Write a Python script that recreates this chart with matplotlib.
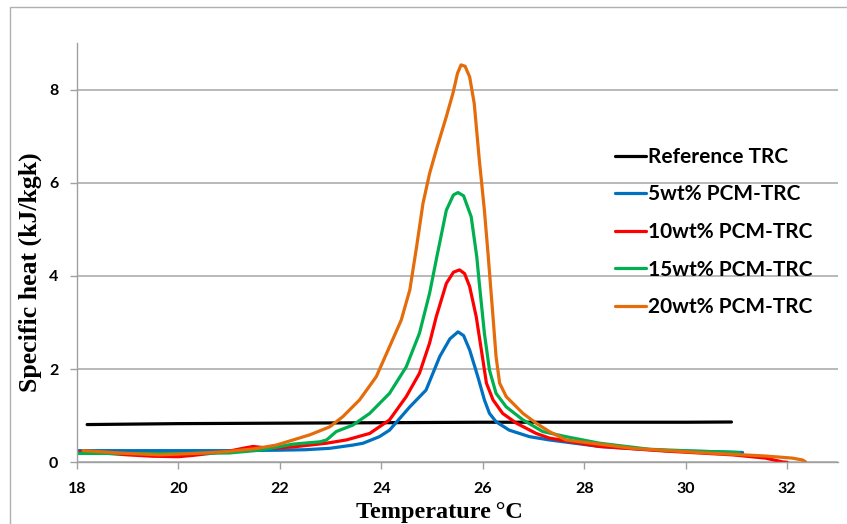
import matplotlib
matplotlib.use("Agg")
import matplotlib.pyplot as plt
from matplotlib.patches import Rectangle

plt.rcParams["font.family"] = ["Lato", "DejaVu Sans"]
plt.rcParams["font.weight"] = "bold"

# Specific heat curves
ref_x = [18.2, 20.0, 22.0, 24.0, 26.0, 28.0, 30.0, 30.9]
ref_y = [0.81, 0.83, 0.84, 0.85, 0.86, 0.86, 0.86, 0.865]

blue_x = [18.0, 19.0, 20.0, 21.0, 22.0, 22.5, 22.98, 23.44, 23.64, 23.96, 24.16,
          24.56, 24.88, 25.15, 25.35, 25.51, 25.62, 25.74, 25.90, 26.03, 26.13,
          26.26, 26.52, 26.92, 27.31, 28.3, 29.61, 30.5, 31.12]
blue_y = [0.25, 0.25, 0.25, 0.25, 0.26, 0.27, 0.30, 0.37, 0.41, 0.55, 0.69,
          1.19, 1.55, 2.27, 2.65, 2.80, 2.72, 2.41, 1.84, 1.34, 1.05,
          0.87, 0.69, 0.55, 0.48, 0.34, 0.25, 0.23, 0.21]

red_x = [18.0, 18.5, 19.0, 19.5, 20.0, 20.3, 20.62, 21.0, 21.27, 21.47, 21.8,
         22.26, 22.92, 23.31, 23.77, 24.16, 24.49, 24.75, 24.95, 25.08, 25.28,
         25.42, 25.54, 25.64, 25.74, 25.87, 26.0, 26.07, 26.2, 26.39, 26.66,
         27.05, 27.31, 28.3, 29.61, 30.92, 31.57, 31.9, 32.0]
red_y = [0.22, 0.2, 0.16, 0.13, 0.12, 0.15, 0.19, 0.24, 0.30, 0.34, 0.30,
         0.33, 0.41, 0.48, 0.62, 0.91, 1.41, 1.91, 2.56, 3.12, 3.84,
         4.08, 4.13, 4.05, 3.77, 3.12, 2.2, 1.70, 1.34, 1.05, 0.84,
         0.62, 0.52, 0.34, 0.24, 0.16, 0.09, 0.01, 0.0]

green_x = [18.0, 19.0, 20.0, 21.0, 21.6, 22.26, 22.79, 22.92, 23.11, 23.44,
           23.77, 24.16, 24.49, 24.75, 24.95, 25.1, 25.28, 25.42, 25.51, 25.62,
           25.77, 25.88, 25.93, 26.03, 26.13, 26.26, 26.46, 26.79, 27.18, 27.64,
           28.3, 29.28, 30.2, 31.05]
green_y = [0.19, 0.19, 0.19, 0.2, 0.26, 0.39, 0.44, 0.48, 0.66, 0.80,
           1.05, 1.48, 2.05, 2.77, 3.63, 4.45, 5.41, 5.74, 5.79, 5.72,
           5.27, 4.41, 3.84, 2.77, 1.98, 1.48, 1.19, 0.91, 0.66, 0.55,
           0.41, 0.28, 0.24, 0.21]

orange_x = [18.12, 19.0, 19.63, 20.3, 20.95, 21.5, 21.93, 22.59, 22.98, 23.24,
            23.57, 23.9, 24.16, 24.39, 24.56, 24.69, 24.82, 24.95, 25.08, 25.28,
            25.41, 25.5, 25.57, 25.65, 25.74, 25.83, 25.93, 26.03, 26.1, 26.2,
            26.26, 26.33, 26.46, 26.79, 27.05, 27.31, 27.64, 28.95, 30.26, 31.57,
            32.1, 32.3, 32.36]
orange_y = [0.25, 0.19, 0.16, 0.19, 0.23, 0.29, 0.37, 0.59, 0.76, 0.98,
            1.34, 1.84, 2.48, 3.05, 3.70, 4.60, 5.56, 6.20, 6.70, 7.42,
            7.92, 8.35, 8.53, 8.50, 8.27, 7.70, 6.49, 5.41, 4.5, 3.12,
            2.27, 1.70, 1.41, 1.05, 0.84, 0.66, 0.48, 0.30, 0.21, 0.135,
            0.09, 0.05, 0.01]

labels = ["Reference TRC", "5wt% PCM-TRC", "10wt% PCM-TRC",
          "15wt% PCM-TRC", "20wt% PCM-TRC"]
colors = ["#000000", "#0070C0", "#FF0000", "#00B050", "#E46C0A"]
x_ticks = [18, 20, 22, 24, 26, 28, 30, 32]
y_ticks = [0, 2, 4, 6, 8]

series = [(ref_x, ref_y), (blue_x, blue_y), (red_x, red_y),
          (green_x, green_y), (orange_x, orange_y)]

fig = plt.figure(figsize=(8.47, 5.24), dpi=100)
ax = fig.add_axes([77 / 847, 1 - 462.3 / 524, (838 - 77) / 847, (462.3 - 43) / 524])

# chart frame, cut off at the right and bottom like the reference
fig.patches.append(Rectangle((10 / 847, -0.1), 1.2, 1 - 7 / 524 + 0.1,
                             transform=fig.transFigure, fill=False,
                             edgecolor="#b0b0b0", linewidth=1.0))

for (xs, ys), lab, col in zip(series, labels, colors):
    ax.plot(xs, ys, color=col, linewidth=2.3, label=lab,
            solid_capstyle="round", solid_joinstyle="round")

ax.set_xlim(18, 33)
ax.set_ylim(0, 9)
ax.set_xticks(x_ticks)
ax.set_yticks(y_ticks)
ax.grid(axis="y", color="#a6a6a6", linewidth=1.1)
ax.set_axisbelow(True)
for side in ["top", "right"]:
    ax.spines[side].set_visible(False)
for side in ["left", "bottom"]:
    ax.spines[side].set_color("#a0a0a0")
    ax.spines[side].set_linewidth(1.0)
ax.xaxis.set_tick_params(direction="out", length=5, color="#a0a0a0", width=1.0,
                         pad=9, labelsize=11.5)
ax.yaxis.set_tick_params(direction="out", length=5, color="#a0a0a0", width=1.0,
                         pad=8.5, labelsize=11.5)

leg = ax.legend(loc="upper left", bbox_to_anchor=(615 / 847, 1 - 147 / 524),
                bbox_transform=fig.transFigure, frameon=False,
                prop={"family": "Lato", "weight": "bold", "size": 15},
                handlelength=1.5, handletextpad=0.1, labelspacing=0.84,
                borderpad=0, borderaxespad=0)
for line in leg.get_lines():
    line.set_linewidth(2.3)

fig.text(30 / 847, 1 - 272 / 524, "Specific heat (kJ/kgk)", rotation=90,
         ha="center", va="center", family="Liberation Serif",
         weight="bold", fontsize=18.5)
fig.text(439 / 847, 1 - 502 / 524, "Temperature\u2009°C", ha="center", va="top",
         family="Liberation Serif", weight="bold", fontsize=17.5)

fig.savefig("out.png", dpi=100)
